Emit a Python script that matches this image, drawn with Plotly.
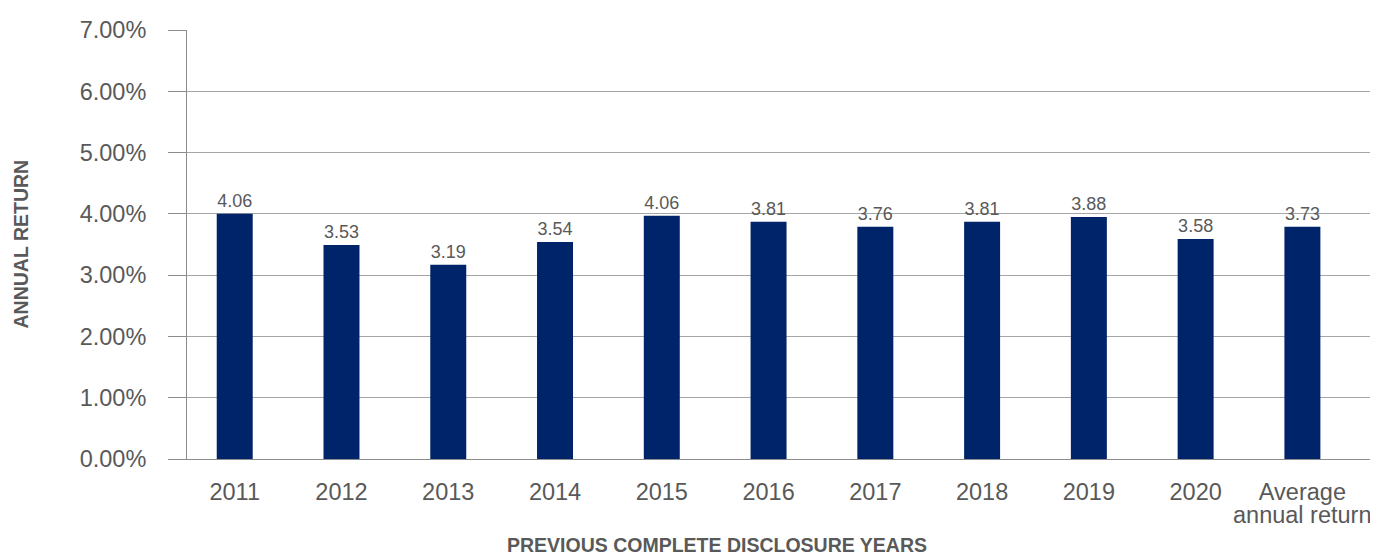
import plotly.graph_objects as go

categories = ["2011", "2012", "2013", "2014", "2015", "2016", "2017", "2018", "2019", "2020",
              "Average annual return"]
bar_values = [4.00, 3.49, 3.17, 3.54, 3.97, 3.87, 3.79, 3.87, 3.95, 3.59, 3.79]
label_texts = ["4.06", "3.53", "3.19", "3.54", "4.06", "3.81", "3.76", "3.81", "3.88", "3.58", "3.73"]
y_ticks = [0, 1, 2, 3, 4, 5, 6, 7]
y_tick_text = ["0.00%", "1.00%", "2.00%", "3.00%", "4.00%", "5.00%", "6.00%", "7.00%"]

GREY_TXT = "#595959"
GRID = "#a6a6a6"
AXIS = "#8c8c8c"

# page has an 8px body margin, so the figure is sized to fit the 1378x556 window
W, H = 1370, 548
L, R, T, B = 179, 3, 22, 97
pw, ph = W - L - R, H - T - B

# the last category label wraps onto two tightly spaced lines
first_line, second_line = categories[-1].split(" ", 1)
x_tick_text = categories[:-1] + [first_line]

fig = go.Figure(go.Bar(
    x=categories,
    y=bar_values,
    text=label_texts,
    textposition="outside",
    cliponaxis=False,
    textfont=dict(family="Liberation Sans Narrow, Arial Narrow, Liberation Sans, Arial", size=18, color=GREY_TXT),
    marker=dict(color="#002469", line=dict(width=0)),
    width=0.337,
    hoverinfo="skip",
))

fig.update_layout(
    width=W, height=H,
    margin=dict(l=L, r=R, t=T, b=B, autoexpand=False),
    paper_bgcolor="white", plot_bgcolor="white",
    showlegend=False,
    font=dict(family="Liberation Sans, Arial, sans-serif", color=GREY_TXT),
    xaxis=dict(
        type="category",
        range=[-0.447, 10.68],
        tickmode="array",
        tickvals=categories,
        ticktext=x_tick_text,
        showgrid=False,
        showline=True, linecolor=AXIS, linewidth=1,
        ticks="",
        tickfont=dict(size=23.5, color=GREY_TXT),
        ticklabelstandoff=12,
    ),
    yaxis=dict(
        range=[0, 7],
        tickmode="array",
        tickvals=y_ticks,
        ticktext=y_tick_text,
        showgrid=True, gridcolor=GRID, gridwidth=1,
        showline=True, linecolor=AXIS, linewidth=1,
        ticks="outside", ticklen=18, tickcolor=AXIS, tickwidth=1,
        tickfont=dict(size=23.5, color=GREY_TXT),
        ticklabelstandoff=17,
        zeroline=False,
    ),
    annotations=[
        dict(text=second_line, xref="x", yref="paper",
             x=categories[-1], y=-(507 - (H - B)) / ph, xanchor="center", yanchor="middle",
             showarrow=False, font=dict(size=23.5, color=GREY_TXT)),
        dict(text="<b>PREVIOUS COMPLETE DISCLOSURE YEARS</b>", xref="paper", yref="paper",
             x=(709 - L) / pw, y=-(537 - (H - B)) / ph, xanchor="center", yanchor="middle",
             showarrow=False, font=dict(size=19.5, color=GREY_TXT)),
        dict(text="<b>ANNUAL RETURN</b>", xref="paper", yref="paper",
             x=-(L - 12) / pw, y=0.5, xanchor="center", yanchor="middle",
             textangle=-90, showarrow=False, font=dict(size=19.5, color=GREY_TXT)),
    ],
)

fig.write_html("out.html")
